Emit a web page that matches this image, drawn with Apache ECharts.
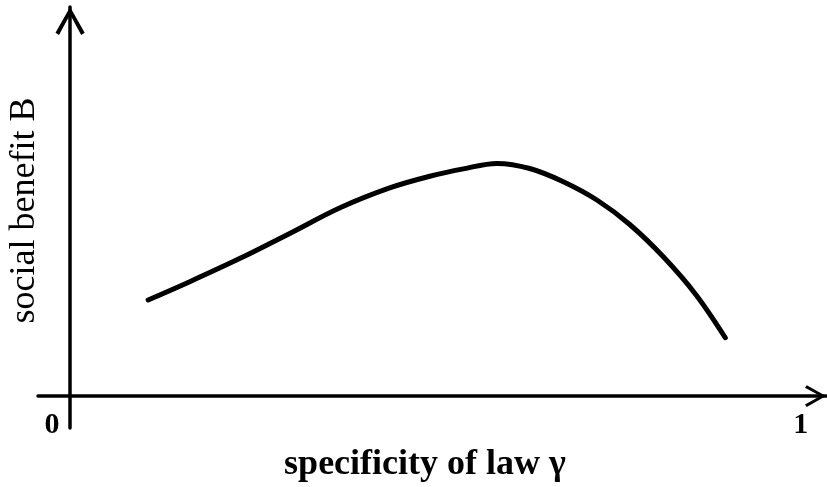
<!DOCTYPE html>
<html>
<head>
<meta charset="utf-8">
<script src="https://cdn.jsdelivr.net/npm/echarts@6/dist/echarts.min.js"></script>
<style>html,body{margin:0;padding:0;background:#fff}#c{width:827px;height:487px}</style>
</head>
<body>
<div id="c"></div>
<script>
// Data
const gammaValues = [0.107, 0.164, 0.233, 0.301, 0.370, 0.438, 0.493, 0.539, 0.585, 0.630, 0.676, 0.722, 0.767, 0.813, 0.858, 0.898];
const benefitValues = [0.247, 0.294, 0.354, 0.418, 0.484, 0.535, 0.565, 0.584, 0.598, 0.585, 0.551, 0.504, 0.441, 0.358, 0.260, 0.150];
const xTickLabels = [0, 1];
const xAxisTitle = 'specificity of law \u03b3';
const yAxisTitle = 'social benefit B';

const chevron = 'path://M50,0 L100,88 L88,96 L50,26 L12,96 L0,88 Z';
const serif = '"Liberation Serif", "Times New Roman", serif';

const chart = echarts.init(document.getElementById('c'), null, {renderer: 'canvas'});
chart.setOption({
  animation: false,
  backgroundColor: '#fff',
  grid: {left: 38, right: 1, top: 7, bottom: 59, containLabel: false, outerBoundsMode: 'none'},
  xAxis: {
    type: 'value', min: -0.044, max: 1.036,
    splitLine: {show: false},
    axisTick: {show: false},
    axisLine: {show: true, onZero: true, lineStyle: {color: '#000', width: 3.5},
      symbol: ['none', chevron], symbolSize: [27, 21], symbolOffset: [0, -10.5]},
    axisLabel: {
      customValues: xTickLabels, margin: -18,
      formatter: v => v === 0 ? '{z|0}' : '{o|1}',
      rich: {
        z: {fontFamily: serif, fontWeight: 'bold', fontSize: 30, lineHeight: 30, color: '#000', padding: [0, 36, 0, 0]},
        o: {fontFamily: serif, fontWeight: 'bold', fontSize: 30, lineHeight: 30, color: '#000', padding: [0, 0, 0, 2]}
      }
    },
    name: xAxisTitle, nameLocation: 'middle', nameGap: 19,
    nameTextStyle: {fontFamily: serif, fontWeight: 'bold', fontSize: 36, color: '#000', padding: [0, 14, 0, 0]}
  },
  yAxis: {
    type: 'value', min: -0.082, max: 1.0,
    splitLine: {show: false},
    axisTick: {show: false},
    axisLabel: {show: false},
    axisLine: {show: true, onZero: true, lineStyle: {color: '#000', width: 3.5},
      symbol: ['none', chevron], symbolSize: [30, 28], symbolOffset: [0, -14]},
    name: yAxisTitle, nameLocation: 'middle', nameGap: -5, nameRotate: 90,
    nameTextStyle: {fontFamily: serif, fontSize: 36, color: '#000', padding: [0, 0, 0, 14]}
  },
  series: [{
    type: 'line',
    data: gammaValues.map((g, i) => [g, benefitValues[i]]),
    smooth: 0.35,
    showSymbol: false,
    lineStyle: {color: '#000', width: 5, cap: 'round', join: 'round'}
  }]
});
</script>
</body>
</html>
